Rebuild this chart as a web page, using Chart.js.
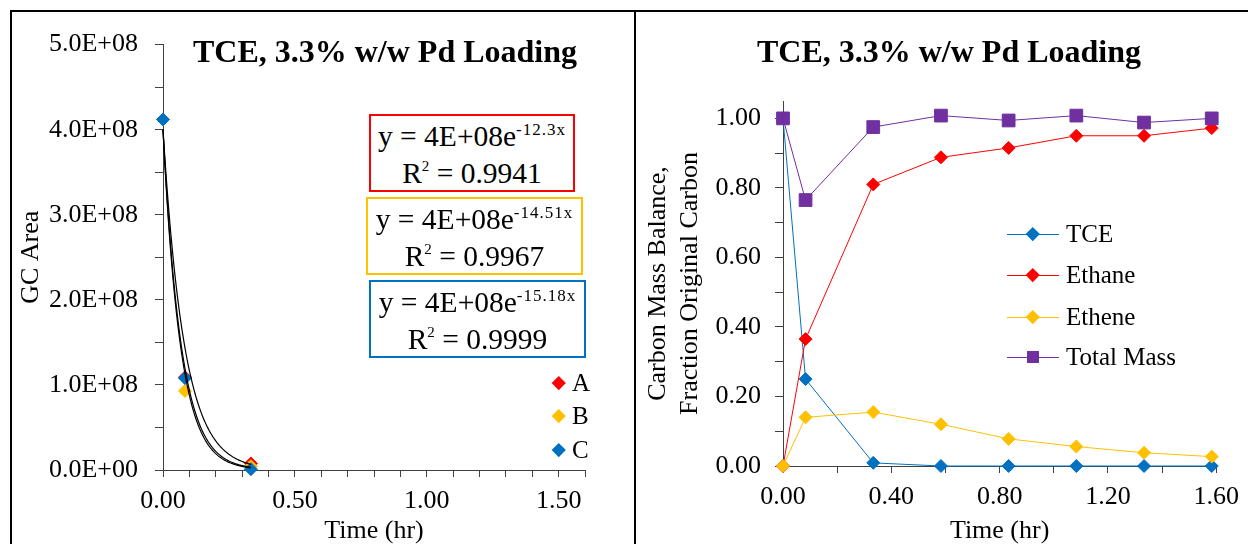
<!DOCTYPE html>
<html>
<head>
<meta charset="utf-8">
<script src="https://cdn.jsdelivr.net/npm/chart.js@4.4.1/dist/chart.umd.min.js"></script>
<style>
  html, body { margin: 0; padding: 0; background: #fff; }
  body {
    width: 1248px; height: 544px; position: relative; overflow: hidden;
    font-family: "Liberation Serif", "Times New Roman", serif; color: #000;
  }
  .frame { position: absolute; left: 10px; top: 10px; right: -4px; bottom: -4px;
    border-left: 2px solid #000; border-top: 2px solid #000; }
  .divider { position: absolute; left: 634px; top: 10px; width: 2px; bottom: 0; background: #000; }
  canvas { position: absolute; }
  #left-canvas { left: 12px; top: 12px; }
  #right-canvas { left: 636px; top: 12px; }
  .title { position: absolute; top: 35px; font-weight: bold; font-size: 32px;
    line-height: 32px; white-space: nowrap; transform: translateX(-50%); }
  .fit-box { position: absolute; box-sizing: border-box; border: 2px solid;
    text-align: center; font-size: 29.5px; line-height: 37px; padding-top: 2px; white-space: nowrap; background: #fff; }
  .fit-box sup { font-size: 17px; line-height: 0; vertical-align: 11px; letter-spacing: 1px; }
  .fit-box sup.r2 { font-size: 15px; vertical-align: 12px; letter-spacing: 0; }
  .leg-row { position: absolute; height: 30px; display: flex; align-items: center; font-size: 25px; white-space: nowrap; }
  .leg-sym { position: relative; height: 30px; flex: none; }
  .leg-line { position: absolute; left: 0; right: 0; top: 15px; height: 1px; }
  .leg-dia { position: absolute; width: 9.5px; height: 9.5px; top: 10.25px; transform: rotate(45deg); }
  .leg-sq { position: absolute; width: 12px; height: 12px; top: 9px; }
</style>
</head>
<body>
<div class="frame"></div>
<div class="divider"></div>
<canvas id="left-canvas" width="622" height="532"></canvas>
<canvas id="right-canvas" width="612" height="532"></canvas>
<div class="title" style="left:385px">TCE, 3.3% w/w Pd Loading</div>
<div class="title" style="left:949px">TCE, 3.3% w/w Pd Loading</div>
<div id="fits"></div>
<div id="legend-left"></div>
<div id="legend-right"></div>
<script>
// ---- left chart: GC area of TCE, three replicate runs ----
var timeLeft = [0, 0.0833, 0.3333];
var areaA = [4.12e8, 1.09e8, 0.077e8];
var areaB = [4.12e8, 0.93e8, 0.045e8];
var areaC = [4.12e8, 1.08e8, 0.01e8];
var namesLeft = ["A", "B", "C"];
var colorsLeft = ["#FF0000", "#FFC000", "#0070C0"];

// exponential trendlines y = a e^(-k x), as printed on the chart
var fitA = [4e8, 12.3];
var fitB = [4e8, 14.51];
var fitC = [4e8, 15.18];
var fitR2 = ["0.9941", "0.9967", "0.9999"];

var xTicksLeft = [0, 0.5, 1.0, 1.5];
var yTicksLeft = [0, 1e8, 2e8, 3e8, 4e8, 5e8];

// ---- right chart: carbon mass balance ----
var timeRight = [0, 0.0833, 0.3333, 0.5833, 0.8333, 1.0833, 1.3333, 1.5833];
var tce = [1.0, 0.25, 0.009, 0, 0, 0, 0, 0];
var ethane = [0, 0.365, 0.81, 0.888, 0.915, 0.95, 0.95, 0.972];
var ethene = [0, 0.14, 0.155, 0.12, 0.078, 0.056, 0.038, 0.027];
var totalMass = [1.0, 0.765, 0.975, 1.008, 0.994, 1.008, 0.988, 1.0];
var namesRight = ["TCE", "Ethane", "Ethene", "Total Mass"];
var colorsRight = ["#0070C0", "#FF0000", "#FFC000", "#7030A0"];

var xTicksRight = [0, 0.4, 0.8, 1.2, 1.6];
var yTicksRight = [0, 0.2, 0.4, 0.6, 0.8, 1.0];

var AXIS = "#404040";
var FONT = "'Liberation Serif', 'Times New Roman', serif";
Chart.defaults.font.family = FONT;
Chart.defaults.color = "#000";

function pts(xs, ys) {
  return xs.map(function (x, i) { return { x: x, y: ys[i] }; });
}

function fitCurve(fit, xEnd) {
  var out = [];
  for (var i = 0; i <= 80; i++) {
    var x = (xEnd * i) / 80;
    out.push({ x: x, y: fit[0] * Math.exp(-fit[1] * x) });
  }
  return out;
}

function inList(list, v) {
  return list.some(function (t) {
    return Math.abs(t - v) <= 1e-6 * Math.max(1, Math.abs(t));
  });
}

function sciLabel(v) {
  if (Math.abs(v) < 1) return "0.0E+00";
  var e = Math.floor(Math.log10(v) + 1e-9);
  var m = v / Math.pow(10, e);
  return m.toFixed(1) + "E+" + (e < 10 ? "0" : "") + e;
}

function axis(opts) {
  return {
    type: "linear",
    min: opts.min,
    max: opts.max,
    ticks: {
      autoSkip: false,
      maxRotation: 0,
      padding: opts.padding,
      font: { size: 26 },
      color: "#000",
      callback: function (v) {
        return inList(opts.labels, v) ? opts.format(v) : "";
      },
    },
    grid: {
      display: true,
      drawOnChartArea: false,
      drawTicks: true,
      tickLength: opts.tickLength,
      tickColor: AXIS,
      lineWidth: 1,
    },
    border: { display: true, color: AXIS, width: 1 },
    title: {
      display: true,
      text: opts.title,
      font: { size: 26, lineHeight: opts.titleLineHeight },
      color: "#000",
      padding: opts.titlePadding,
    },
    // major + minor tick marks every "step", up to the last labelled value
    afterBuildTicks: function (s) {
      var t = [];
      for (var k = 0; k * opts.step <= opts.lastTick * 1.000001; k++) {
        t.push({ value: opts.min + k * opts.step });
      }
      s.ticks = t;
    },
    afterFit: function (s) {
      if (opts.width) s.width = opts.width;
      if (opts.height) s.height = opts.height;
    },
  };
}

function marker(color, style, r) {
  return {
    showLine: false,
    pointStyle: style,
    pointRadius: r,
    pointHoverRadius: r,
    pointBackgroundColor: color,
    pointBorderColor: color,
    pointBorderWidth: 1,
    backgroundColor: color,
    borderColor: color,
    clip: false,
  };
}

// left chart
var areas = [areaA, areaB, areaC];
var fits = [fitA, fitB, fitC];
var leftSets = [];
fits.forEach(function (f, i) {
  leftSets.push({
    label: "fit " + namesLeft[i],
    data: fitCurve(f, timeLeft[timeLeft.length - 1]),
    showLine: true,
    borderColor: "#000",
    borderWidth: 1.2,
    pointRadius: 0,
    tension: 0,
    order: 0,
    clip: false,
  });
});
areas.forEach(function (a, i) {
  var ds = marker(colorsLeft[i], "rectRot", 6.5);
  ds.label = namesLeft[i];
  ds.data = pts(timeLeft, a);
  ds.order = 3 - i;
  leftSets.push(ds);
});

new Chart(document.getElementById("left-canvas"), {
  type: "scatter",
  data: { datasets: leftSets },
  options: {
    responsive: false,
    animation: false,
    events: [],
    layout: { padding: { left: 0, right: 49, top: 22, bottom: 0 } },
    plugins: { legend: { display: false }, tooltip: { enabled: false } },
    scales: {
      x: axis({
        min: 0, max: 1.6, step: 0.1, lastTick: 1.6, labels: xTicksLeft,
        format: function (v) { return v.toFixed(2); },
        padding: 9, tickLength: 7, title: "Time (hr)", titleLineHeight: 1.0,
        titlePadding: { top: 0, bottom: 0 }, height: 74,
      }),
      y: axis({
        min: 0, max: 5e8, step: 0.5e8, lastTick: 5e8, labels: yTicksLeft,
        format: sciLabel, padding: 17, tickLength: 8, title: "GC Area",
        titleLineHeight: 1.2, titlePadding: { top: 4, bottom: 0 }, width: 151,
      }),
    },
  },
});

// right chart
var rightSeries = [tce, ethane, ethene, totalMass];
var rightSets = rightSeries.map(function (vals, i) {
  var isTotal = i === 3;
  var ds = marker(colorsRight[i], isTotal ? "rect" : "rectRot", isTotal ? 9 : 6.5);
  ds.label = namesRight[i];
  ds.data = pts(timeRight, vals);
  ds.showLine = true;
  ds.borderWidth = 1;
  ds.tension = 0;
  ds.order = 3 - i;
  return ds;
});

new Chart(document.getElementById("right-canvas"), {
  type: "scatter",
  data: { datasets: rightSets },
  options: {
    responsive: false,
    animation: false,
    events: [],
    layout: { padding: { left: 0, right: 25, top: 89, bottom: 0 } },
    plugins: { legend: { display: false }, tooltip: { enabled: false } },
    scales: {
      x: axis({
        min: 0, max: 1.6, step: 0.2, lastTick: 1.6, labels: xTicksRight,
        format: function (v) { return v.toFixed(2); },
        padding: 9, tickLength: 7, title: "Time (hr)", titleLineHeight: 1.0,
        titlePadding: { top: 0, bottom: 0 }, height: 78,
      }),
      y: axis({
        min: 0, max: 1.05, step: 0.1, lastTick: 1.0, labels: yTicksRight,
        format: function (v) { return v.toFixed(2); },
        padding: 14, tickLength: 8,
        title: ["Carbon Mass Balance,", "Fraction Original Carbon"],
        titleLineHeight: 1.2, titlePadding: { top: 7, bottom: 0 }, width: 147,
      }),
    },
  },
});

// trendline equation boxes
var fitBoxes = [
  { left: 369, top: 114, width: 206 },
  { left: 366, top: 197, width: 217 },
  { left: 369, top: 280, width: 217 },
];
var fitsEl = document.getElementById("fits");
fits.forEach(function (f, i) {
  var b = fitBoxes[i];
  var d = document.createElement("div");
  d.className = "fit-box";
  d.style.left = b.left + "px";
  d.style.top = b.top + "px";
  d.style.width = b.width + "px";
  d.style.height = "78px";
  d.style.borderColor = colorsLeft[i];
  d.innerHTML =
    "y = " + (f[0] / 1e8).toFixed(0) + "E+08e<sup>-" + f[1] + "x</sup><br>" +
    "R<sup class=\"r2\">2</sup> = " + fitR2[i];
  fitsEl.appendChild(d);
});

// legends
function legend(el, names, colors, pos) {
  names.forEach(function (n, i) {
    var row = document.createElement("div");
    row.className = "leg-row";
    row.style.left = pos.x + "px";
    row.style.top = pos.y[i] - 15 + "px";
    var sym = document.createElement("span");
    sym.className = "leg-sym";
    sym.style.width = pos.symWidth + "px";
    if (pos.line) {
      var ln = document.createElement("span");
      ln.className = "leg-line";
      ln.style.background = colors[i];
      sym.appendChild(ln);
    }
    var mk = document.createElement("span");
    var square = pos.squares && pos.squares[i];
    mk.className = square ? "leg-sq" : "leg-dia";
    mk.style.left = pos.symWidth / 2 - (square ? 6 : 4.75) + "px";
    mk.style.background = colors[i];
    sym.appendChild(mk);
    var tx = document.createElement("span");
    tx.textContent = n;
    tx.style.marginLeft = pos.gap + "px";
    row.appendChild(sym);
    row.appendChild(tx);
    el.appendChild(row);
  });
}

legend(document.getElementById("legend-left"), namesLeft, colorsLeft, {
  x: 552, y: [383, 416, 450], symWidth: 14, gap: 6, line: false,
});
legend(document.getElementById("legend-right"), namesRight, colorsRight, {
  x: 1007, y: [234, 275, 317, 357], symWidth: 52, gap: 7, line: true,
  squares: [false, false, false, true],
});
</script>
</body>
</html>
